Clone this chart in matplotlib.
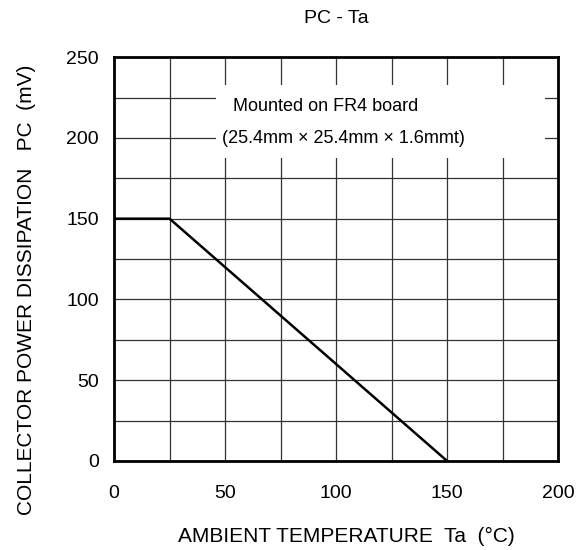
import matplotlib.pyplot as plt
from matplotlib.patches import Rectangle
from matplotlib.ticker import MultipleLocator

plt.rcParams['font.family'] = ['Liberation Sans', 'DejaVu Sans']

# derating curve
ta = [0, 25, 150]
pc = [150, 150, 0]

fig = plt.figure(figsize=(5.88, 5.5), dpi=100)
ax = fig.add_axes([0.194, 0.162, 0.755, 0.734])

ax.plot(ta, pc, color='black', lw=1.8, zorder=3)
ax.set_xlim(0, 200)
ax.set_ylim(0, 250)
ax.xaxis.set_major_locator(MultipleLocator(50))
ax.yaxis.set_major_locator(MultipleLocator(50))
ax.xaxis.set_minor_locator(MultipleLocator(25))
ax.yaxis.set_minor_locator(MultipleLocator(25))
ax.grid(which='both', color='#333333', lw=0.9)
ax.tick_params(which='both', length=0, labelsize=14)
ax.tick_params(axis='x', pad=17)
ax.tick_params(axis='y', pad=11)
for s in ax.spines.values():
    s.set_linewidth(2)

ax.set_title('PC - Ta', fontsize=14, y=1.095, pad=0, va='center')
ax.set_xlabel('AMBIENT TEMPERATURE  Ta  (°C)', fontsize=15, va='center')
ax.xaxis.set_label_coords(0.523, -0.188)
ax.set_ylabel('COLLECTOR POWER DISSIPATION   PC  (mV)', fontsize=15,
              va='center', ha='center')
ax.yaxis.set_label_coords(-0.198, 0.423)

# white box behind the note
ax.add_patch(Rectangle((45.9, 187.5), 148.2, 45.2, facecolor='white',
                       edgecolor='none', zorder=2.5))
ax.text(53.6, 219.5, 'Mounted on FR4 board', fontsize=13, va='center', ha='left', zorder=4)
ax.text(48.6, 199.8, '(25.4mm × 25.4mm × 1.6mmt)', fontsize=13, va='center', ha='left', zorder=4)

fig.savefig('out.png', dpi=100)
